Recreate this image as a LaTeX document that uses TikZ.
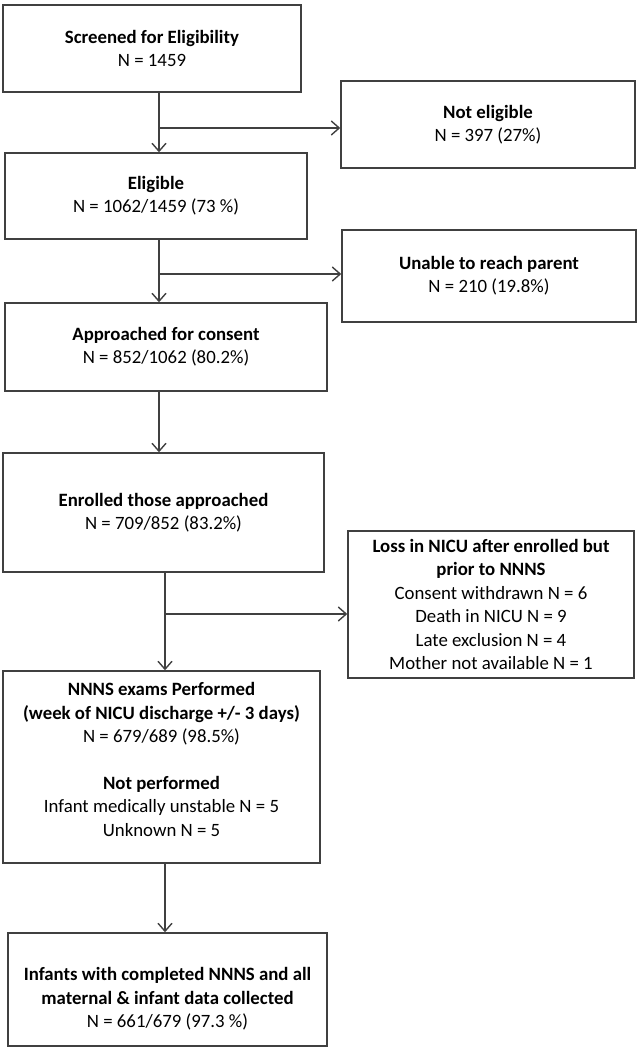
\documentclass[tikz,border=0pt]{standalone}
\usepackage{fontspec}
\setmainfont{Carlito}
\usetikzlibrary{arrows.meta}

\begin{document}
\begin{tikzpicture}[
    x=0.5pt, y=-0.5pt,
    box/.style={draw=black!75, line width=0.7pt, align=center, inner sep=0pt,
                font=\fontsize{9.4pt}{11.7pt}\selectfont},
    txt/.style={align=center, font=\fontsize{9.4pt}{11.7pt}\selectfont},
    arr/.style={draw=black!75, line width=0.7pt, -{Straight Barb[length=4pt,width=7pt]}}]
    \useasboundingbox (0,0) rectangle (640,1050);

    % Hauptkette
    \node[box, minimum width=149pt, minimum height=43.5pt] (screen) at (152,48.5)
        {\textbf{Screened for Eligibility}\\N = 1459};
    \node[box, minimum width=151pt, minimum height=43pt] (elig) at (156,196)
        {\textbf{Eligible}\\N = 1062/1459 (73 \%)};
    \node[box, minimum width=161pt, minimum height=44pt] (appr) at (166,347)
        {\textbf{Approached for consent}\\N = 852/1062 (80.2\%)};
    \node[box, minimum width=160.5pt, minimum height=59.5pt] (enrol) at (163.5,512.5)
        {\textbf{Enrolled those approached}\\N = 709/852 (83.2\%)};
    \node[box, minimum width=158.5pt, minimum height=96pt,
          label={[txt, yshift=3.75pt]center:{\textbf{NNNS exams Performed}\\
                 \textbf{(week of NICU discharge +/- 3 days)}\\N = 679/689 (98.5\%)\\[11.7pt]
                 \textbf{Not performed}\\Infant medically unstable N = 5\\Unknown N = 5}}]
          (nnns) at (161.5,767) {};
    \node[box, minimum width=159.5pt, minimum height=56.5pt,
          label={[txt, yshift=-4.75pt]center:{\textbf{Infants with completed NNNS and all}\\
                 \textbf{maternal \& infant data collected}\\N = 661/679 (97.3 \%)}}]
          (final) at (167.5,989.5) {};

    % Ausschluesse
    \node[box, minimum width=147pt, minimum height=43.5pt] (noelig) at (488,124.5)
        {\textbf{Not eligible}\\N = 397 (27\%)};
    \node[box, minimum width=147pt, minimum height=46pt] (unable) at (489,276)
        {\textbf{Unable to reach parent}\\N = 210 (19.8\%)};
    \node[box, minimum width=143pt, minimum height=73.5pt] (loss) at (491,604.5)
        {\textbf{Loss in NICU after enrolled but}\\\textbf{prior to NNNS}\\
         Consent withdrawn N = 6\\Death in NICU N = 9\\Late exclusion N = 4\\
         Mother not available N = 1};

    % Abzweigungen
    \coordinate (b1) at (159,128);
    \coordinate (b2) at (159,274);
    \coordinate (b3) at (165,614);

    % Pfeile
    \draw[arr] (screen.south -| b1) -- (elig.north -| b1);
    \draw[arr] (b1) -- (noelig.west |- b1);
    \draw[arr] (elig.south -| b2) -- (appr.north -| b2);
    \draw[arr] (b2) -- (unable.west |- b2);
    \draw[arr] (appr.south -| b2) -- (enrol.north -| b2);
    \draw[arr] (enrol.south -| b3) -- (nnns.north -| b3);
    \draw[arr] (b3) -- (loss.west |- b3);
    \draw[arr] (nnns.south -| b3) -- (final.north -| b3);
\end{tikzpicture}
\end{document}
